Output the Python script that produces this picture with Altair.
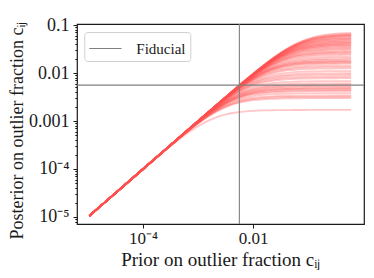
import altair as alt
import pandas as pd

# Prior values (x) sampled along each curve
prior_grid = [1.06e-5, 3e-5, 1e-4, 3e-4, 6e-4, 1e-3, 1.5e-3, 2.2e-3, 3.2e-3,
              4.6e-3, 6.8e-3, 0.01, 0.015, 0.022, 0.032, 0.046, 0.068, 0.1,
              0.15, 0.22, 0.32, 0.46, 0.6]

# Level at which each posterior curve flattens out (read at the right end)
plateaus = [0.0705, 0.067, 0.064, 0.063, 0.061, 0.059, 0.056, 0.0543, 0.0525,
            0.050, 0.0487, 0.046, 0.0449, 0.043, 0.0416, 0.0398, 0.039, 0.0371,
            0.0355, 0.0337, 0.032, 0.0301, 0.0282, 0.027, 0.0257, 0.024,
            0.0219, 0.0202, 0.019, 0.0178, 0.0174, 0.0165, 0.0159, 0.0145,
            0.0135, 0.0125, 0.0110, 0.0099, 0.0092, 0.0084, 0.0078, 0.0068,
            0.0061, 0.0057, 0.0054, 0.0051, 0.0048, 0.0047, 0.0044, 0.0042,
            0.0038, 0.0034, 0.0032, 0.0030, 0.0017]

fiducial = 0.0056

rows = []
for i, a in enumerate(plateaus):
    for x in prior_grid:
        y = x / (1 + (x / a) ** 1.5) ** (1 / 1.5)
        rows.append({"curve": i, "prior": x, "post": y})
df = pd.DataFrame(rows)
fid_df = pd.DataFrame({"prior": [fiducial], "post": [fiducial], "label": ["Fiducial"]})

FONT = "Liberation Serif"
INK = "#1a1a1a"

majors = [1e-5, 1e-4, 1e-3, 1e-2, 1e-1]
ymin, ymax = 10 ** -5.146, 10 ** -0.979
yticks = list(majors)
for m in [1e-6] + majors:
    for k in range(2, 10):
        v = k * m
        if ymin <= v <= ymax:
            yticks.append(v)

xscale = alt.Scale(type="log", domain=[10 ** -5.2, 10 ** 0.011], nice=False)
yscale = alt.Scale(type="log", domain=[ymin, ymax], nice=False)

ylabel_expr = ("datum.value === 0.1 ? '0.1' : datum.value === 0.01 ? '0.01' : "
               "datum.value === 0.001 ? '0.001' : datum.value === 0.0001 ? '10⁻⁴' : "
               "datum.value === 0.00001 ? '10⁻⁵' : ''")
xlabel_expr = "datum.value === 0.01 ? '0.01' : '10⁻⁴'"

lines = alt.Chart(df).mark_line(
    color="#ff5050", opacity=0.32, strokeWidth=1.8, interpolate="monotone"
).encode(
    x=alt.X("prior:Q", scale=xscale,
            axis=alt.Axis(values=[1e-4, 1e-2], labelExpr=xlabel_expr,
                          title="Prior on outlier fraction cᵢⱼ",
                          titleX=143.3, titleY=41, titleAlign="center",
                          titleBaseline="alphabetic", titleFontSize=19, tickSize=4,
                          labelFontSize=17, labelPadding=2,
                          labelOverlap=False, labelFlush=False)),
    y=alt.Y("post:Q", scale=yscale,
            axis=alt.Axis(values=yticks, labelExpr=ylabel_expr,
                          title="Posterior on outlier fraction cᵢⱼ",
                          titleX=-55, titleY=106, titleAngle=-90,
                          titleAlign="center", titleBaseline="alphabetic",
                          titleFontSize=18,
                          tickSize={"condition": {"test": "indexof([0.1,0.01,0.001,0.0001,0.00001], datum.value) >= 0", "value": 4}, "value": 2.2},
                          labelPadding=4, labelOverlap=False, labelFlush=False)),
    detail="curve:N",
)

stroke_enc = alt.Stroke("label:N",
                        scale=alt.Scale(domain=["Fiducial"], range=["#808080"]),
                        legend=alt.Legend(title=None, orient="none", legendX=7.3, legendY=8,
                                          symbolType="M-1,0H1.8", symbolSize=529,
                                          symbolStrokeWidth=1.2, labelFont=FONT,
                                          labelFontSize=15, labelColor=INK,
                                          labelOffset=23, padding=4,
                                          strokeColor="#d0d0d0", fillColor="white",
                                          cornerRadius=3))

vrule = alt.Chart(fid_df).mark_rule(strokeWidth=1.1).encode(
    x=alt.X("prior:Q", scale=xscale), stroke=stroke_enc)
hrule = alt.Chart(fid_df).mark_rule(strokeWidth=1.1).encode(
    y=alt.Y("post:Q", scale=yscale), stroke=stroke_enc)

chart = alt.layer(lines, vrule, hrule).properties(
    width=287, height=200,
    autosize=alt.AutoSizeParams(type="none"),
    padding={"left": 69, "top": 16, "right": 2, "bottom": 46},
).configure_view(
    stroke=INK, strokeWidth=1.2
).configure_axis(
    grid=False, domain=False, tickColor=INK, tickWidth=1,
    labelFont=FONT, labelFontSize=18, labelColor=INK,
    titleFont=FONT, titleFontSize=20, titleColor=INK, titleFontWeight="normal",
)

chart.save("out.html", embed_options={"renderer": "svg", "actions": False})
